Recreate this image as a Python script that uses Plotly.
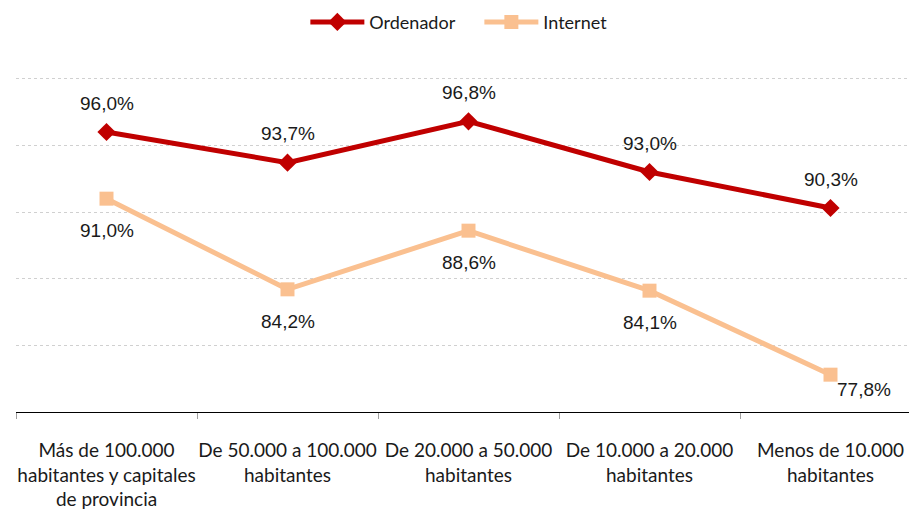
import plotly.graph_objects as go

categorias = [
    "Más de 100.000<br>habitantes y capitales<br>de provincia",
    "De 50.000 a 100.000<br>habitantes",
    "De 20.000 a 50.000<br>habitantes",
    "De 10.000 a 20.000<br>habitantes",
    "Menos de 10.000<br>habitantes",
]
ordenador = [96.0, 93.7, 96.8, 93.0, 90.3]
internet = [91.0, 84.2, 88.6, 84.1, 77.8]

label_font = dict(family="Liberation Sans, Arial", size=19, color="#1a1a1a")
text_font = "Lato, Open Sans, sans-serif"

fig = go.Figure()
fig.add_trace(go.Scatter(
    x=categorias, y=ordenador, name="Ordenador", mode="lines+markers",
    line=dict(color="#C00000", width=5),
    marker=dict(symbol="diamond", size=14, color="#C00000")))
fig.add_trace(go.Scatter(
    x=categorias, y=internet, name="Internet", mode="lines+markers",
    line=dict(color="#FAC090", width=5),
    marker=dict(symbol="square", size=14, color="#FAC090")))

def fmt(v):
    return f"{v:.1f}".replace(".", ",") + "%"

for i, v in enumerate(ordenador):
    fig.add_annotation(x=categorias[i], y=v, text=fmt(v), showarrow=False,
                       yshift=29, font=label_font)
for i, v in enumerate(internet):
    if i == len(internet) - 1:
        fig.add_annotation(x=categorias[i], y=v, text=fmt(v), showarrow=False,
                           yshift=-15, xshift=33, font=label_font)
    else:
        fig.add_annotation(x=categorias[i], y=v, text=fmt(v), showarrow=False,
                           yshift=-32, font=label_font)

# page has an 8px body margin, so offsets below account for it
fig.update_layout(
    width=917, height=512,
    margin=dict(l=8, r=4, t=68, b=108, autoexpand=False),
    paper_bgcolor="white", plot_bgcolor="white",
    font=dict(family=text_font, size=19, color="#1a1a1a"),
    showlegend=True,
    legend=dict(orientation="h", x=0.512, xanchor="center", y=1.16,
                yanchor="middle", font=dict(family=text_font, size=18),
                itemwidth=54, entrywidth=105, traceorder="normal"),
    xaxis=dict(type="category", range=[-0.5, 4.5], showline=True,
               linecolor="#000000", linewidth=1, ticks="outside",
               tickson="boundaries", tickcolor="#a0a0a0", ticklen=6,
               showgrid=False, automargin=False, tickangle=0,
               ticklabelstandoff=21,
               tickfont=dict(family=text_font, size=19)),
    yaxis=dict(range=[75, 100.2], dtick=5, showticklabels=False,
               showgrid=True, gridcolor="#d0d0d0", griddash="dot",
               gridwidth=1, zeroline=False, showline=False, automargin=False),
)

fig.write_html("out.html")
